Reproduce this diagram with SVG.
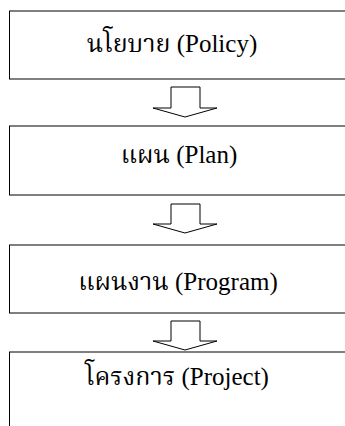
<svg xmlns="http://www.w3.org/2000/svg" width="345" height="426" viewBox="0 0 345 426">
<style>
.box{fill:#fff;stroke:#000;stroke-width:1}
.lbl{font-family:"Liberation Serif","Noto Serif Thai","Kinnari","Norasi","DejaVu Serif",serif;font-size:25px;fill:#000;text-anchor:middle}
.arr{fill:#fff;stroke:#000;stroke-width:1;stroke-linejoin:miter}
</style>
<rect width="345" height="426" fill="#fff"/>
<g id="policy">
<rect class="box" x="9.5" y="11" width="345" height="68"/>
<text class="lbl" x="172" y="52">นโยบาย (Policy)</text>
</g>
<g id="plan">
<rect class="box" x="9.5" y="126" width="345" height="69"/>
<text class="lbl" x="179" y="163">แผน (Plan)</text>
</g>
<g id="program">
<rect class="box" x="9.5" y="245" width="345" height="68"/>
<text class="lbl" x="178" y="290">แผนงาน (Program)</text>
</g>
<g id="project">
<rect class="box" x="9.5" y="352" width="345" height="100"/>
<text class="lbl" x="177" y="385">โครงการ (Project)</text>
</g>
<g id="connectors">
<polygon class="arr" points="171,87 200,87 200,108 217,108 185,117 153,108 171,108"/>
<polygon class="arr" points="171,204 200,204 200,224 217,224 185,233 153,224 171,224"/>
<polygon class="arr" points="171,321 200,321 200,341 217,341 185,350 153,341 171,341"/>
</g>
</svg>
